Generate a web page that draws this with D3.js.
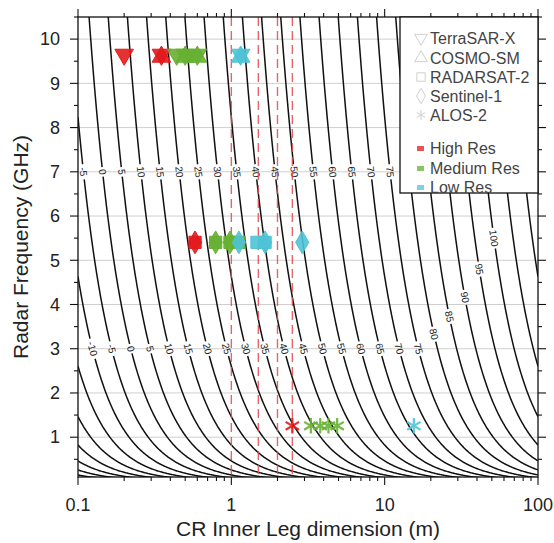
<!DOCTYPE html>
<html>
<head>
<meta charset="utf-8">
<script src="https://cdn.jsdelivr.net/npm/d3@7"></script>
<style>
  body { margin: 0; background: #fff; }
  svg { display: block; }
  text { font-family: "Liberation Sans", Arial, Helvetica, sans-serif; }
</style>
</head>
<body>
<svg id="chart" width="554" height="543"></svg>
<script>
// Trihedral corner reflector RCS contours (dBsm) over leg size and radar frequency
const rcsLevels = [-40, -35, -30, -25, -20, -15, -10, -5, 0, 5, 10, 15, 20, 25, 30, 35, 40,
                   45, 50, 55, 60, 65, 70, 75, 80, 85, 90, 95, 100, 105, 110, 115];
const upperBandLevels = [-5, 0, 5, 10, 15, 20, 25, 30, 35, 40, 45, 50, 55, 60, 65, 70, 75];
const lowerBandLevels = [-10, -5, 0, 5, 10, 15, 20, 25, 30, 35, 40, 45, 50, 55, 60, 65, 70, 75];
const diagonalLevels = [80, 85, 90, 95, 100];
const diagonalFreqs = [3.33, 3.73, 4.16, 4.8, 5.5];
const upperBandFreq = 7.0;
const lowerBandFreq = 3.0;

const xTickValues = [0.1, 1, 10, 100];
const xTickLabels = ["0.1", "1", "10", "100"];
const yTickValues = [1, 2, 3, 4, 5, 6, 7, 8, 9, 10];
const guideLegs = [1, 1.5, 2, 2.5];

// Reflector sizes per sensor and resolution class
const satellites = ["TerraSAR-X", "COSMO-SM", "RADARSAT-2", "Sentinel-1", "ALOS-2"];
const satFrequency = [9.65, 9.6, 5.405, 5.405, 1.2575];
const satShape = ["down", "up", "square", "diamond", "asterisk"];
const resClasses = ["High Res", "Medium Res", "Low Res"];
const resColors = ["#e31a1c", "#66b032", "#4fc3d6"];

const markerSat = ["TerraSAR-X", "TerraSAR-X", "TerraSAR-X", "TerraSAR-X", "TerraSAR-X", "TerraSAR-X",
                   "COSMO-SM", "COSMO-SM", "COSMO-SM", "COSMO-SM",
                   "RADARSAT-2", "RADARSAT-2", "RADARSAT-2", "RADARSAT-2", "RADARSAT-2", "RADARSAT-2",
                   "Sentinel-1", "Sentinel-1", "Sentinel-1", "Sentinel-1", "Sentinel-1", "Sentinel-1",
                   "ALOS-2", "ALOS-2", "ALOS-2", "ALOS-2", "ALOS-2", "ALOS-2"];
const markerLeg = [0.2, 0.35, 0.44, 0.5, 0.6, 1.15,
                   0.35, 0.5, 0.6, 1.15,
                   0.58, 0.79, 0.98, 1.12, 1.47, 1.66,
                   0.58, 0.79, 0.98, 1.12, 1.66, 2.9,
                   2.5, 3.3, 3.8, 4.3, 4.9, 15.5];
const markerRes = ["High Res", "High Res", "Medium Res", "Medium Res", "Medium Res", "Low Res",
                   "High Res", "Medium Res", "Medium Res", "Low Res",
                   "High Res", "Medium Res", "Medium Res", "Medium Res", "Low Res", "Low Res",
                   "High Res", "Medium Res", "Medium Res", "Low Res", "Low Res", "Low Res",
                   "High Res", "Medium Res", "Medium Res", "Medium Res", "Medium Res", "Low Res"];

// RCS of a trihedral: sigma = 4*pi*a^4 / (3*lambda^2)
const C = 299792458;
const K_DB = 10 * Math.log10(4 * Math.PI / 3) + 20 * Math.log10(1e9 / C);
function freqForLevel(level, leg) {
  return Math.pow(10, (level - K_DB - 40 * Math.log10(leg)) / 20);
}
function legForLevel(level, f) {
  return Math.pow(10, (level - K_DB - 20 * Math.log10(f)) / 40);
}

const svg = d3.select("#chart");
const W = 554, H = 543;
const m = { left: 78, right: 538, top: 17, bottom: 477 };

const x = d3.scaleLog().domain([0.1, 100]).range([m.left, m.right]);
const y = d3.scaleLinear().domain([0.1, 10.5]).range([m.bottom, m.top]);

svg.append("rect").attr("width", W).attr("height", H).attr("fill", "#fff");

const defs = svg.append("defs");
defs.append("clipPath").attr("id", "plotClip")
  .append("rect").attr("x", m.left).attr("y", m.top)
  .attr("width", m.right - m.left).attr("height", m.bottom - m.top);

// horizontal grid
svg.append("g").selectAll("line").data(yTickValues).join("line")
  .attr("x1", m.left).attr("x2", m.right)
  .attr("y1", d => y(d)).attr("y2", d => y(d))
  .attr("stroke", "#cfcfcf").attr("stroke-width", 1);

// contour label placements
const labelFont = 10;
const labels = [];
function addLabel(level, f) {
  const leg = legForLevel(level, f);
  const px = x(leg), py = y(f);
  const d = 0.01;
  const p2x = x(leg * (1 + d)), p2y = y(freqForLevel(level, leg * (1 + d)));
  const ang = Math.atan2(p2y - py, p2x - px) * 180 / Math.PI;
  labels.push({ level, px, py, ang });
}
upperBandLevels.forEach(l => addLabel(l, upperBandFreq));
lowerBandLevels.forEach(l => addLabel(l, lowerBandFreq));
diagonalLevels.forEach((l, i) => addLabel(l, diagonalFreqs[i]));

// gaps in the contour lines under labels
const mask = defs.append("mask").attr("id", "labelMask").attr("maskUnits", "userSpaceOnUse")
  .attr("x", 0).attr("y", 0).attr("width", W).attr("height", H);
mask.append("rect").attr("width", W).attr("height", H).attr("fill", "#fff");
const labW = d => String(d.level).length * labelFont * 0.56 + 4;
mask.selectAll("rect.gap").data(labels).join("rect").attr("class", "gap")
  .attr("x", d => -labW(d) / 2)
  .attr("y", -labelFont * 0.6)
  .attr("width", labW)
  .attr("height", labelFont * 1.2)
  .attr("transform", d => `translate(${d.px},${d.py}) rotate(${d.ang})`)
  .attr("fill", "#000");

// contour lines
const legSamples = d3.range(0, 601).map(i => Math.pow(10, -1 + 3 * i / 600));
const line = d3.line().x(d => x(d[0])).y(d => y(d[1]));
const contourG = svg.append("g").attr("clip-path", "url(#plotClip)")
  .append("g").attr("mask", "url(#labelMask)");
contourG.selectAll("path").data(rcsLevels).join("path")
  .attr("d", lev => {
    const pts = legSamples.map(a => [a, freqForLevel(lev, a)])
      .filter(p => p[1] > 0.02 && p[1] < 14);
    return line(pts);
  })
  .attr("fill", "none").attr("stroke", "#111").attr("stroke-width", 1.5);

// contour labels
svg.append("g").selectAll("text").data(labels).join("text")
  .attr("transform", d => `translate(${d.px},${d.py}) rotate(${d.ang})`)
  .attr("text-anchor", "middle").attr("dy", "0.35em")
  .attr("font-size", labelFont).attr("fill", "#222")
  .text(d => d.level);

// vertical guide lines at selected leg sizes
const guideG = svg.append("g").attr("clip-path", "url(#plotClip)");
guideG.selectAll("line").data(guideLegs).join("line")
  .attr("x1", d => x(d)).attr("x2", d => x(d))
  .attr("y1", m.top).attr("y2", m.bottom)
  .attr("stroke", "#e04a4e").attr("stroke-opacity", 0.85)
  .attr("stroke-width", 1.4)
  .attr("stroke-dasharray", "9,5");

// markers
function shapePath(shape, size) {
  const sym = {
    up: d3.symbolTriangle, down: d3.symbolTriangle, square: d3.symbolSquare,
    diamond: d3.symbolDiamond, circle: d3.symbolCircle, asterisk: d3.symbolAsterisk
  }[shape];
  return d3.symbol().type(sym).size(size)();
}
const markers = markerSat.map((s, i) => {
  const si = satellites.indexOf(s);
  return { sat: s, leg: markerLeg[i], f: satFrequency[si], shape: satShape[si],
           color: resColors[resClasses.indexOf(markerRes[i])] };
});
const markG = svg.append("g");
markG.selectAll("path.solid").data(markers.filter(d => d.shape !== "asterisk")).join("path")
  .attr("class", "solid")
  .attr("d", d => shapePath(d.shape, 150))
  .attr("transform", d => `translate(${x(d.leg)},${y(d.f)})` + (d.shape === "down" ? " rotate(180)" : ""))
  .attr("fill", d => d.color).attr("fill-opacity", 0.9)
  .attr("stroke", d => d.color).attr("stroke-width", 1);
markG.selectAll("path.star").data(markers.filter(d => d.shape === "asterisk")).join("path")
  .attr("class", "star")
  .attr("d", d => shapePath(d.shape, 170))
  .attr("transform", d => `translate(${x(d.leg)},${y(d.f)})`)
  .attr("fill", "none")
  .attr("stroke", d => d.color).attr("stroke-width", 2.2).attr("stroke-opacity", 0.9);

// frame and axes
svg.append("rect").attr("x", m.left).attr("y", m.top)
  .attr("width", m.right - m.left).attr("height", m.bottom - m.top)
  .attr("fill", "none").attr("stroke", "#111").attr("stroke-width", 1.3);

const minorX = [];
[0.1, 1, 10].forEach(b => { for (let k = 2; k <= 9; k++) minorX.push(b * k); });
const halfY = d3.range(0.5, 10.51, 0.5);

const axG = svg.append("g").attr("stroke", "#111").attr("stroke-width", 1.1);
axG.selectAll("line.bx").data(xTickValues).join("line").attr("class", "bx")
  .attr("x1", d => x(d)).attr("x2", d => x(d)).attr("y1", m.bottom).attr("y2", m.bottom + 8);
axG.selectAll("line.bxm").data(minorX).join("line").attr("class", "bxm")
  .attr("x1", d => x(d)).attr("x2", d => x(d)).attr("y1", m.bottom).attr("y2", m.bottom + 4);
axG.selectAll("line.tx").data(xTickValues).join("line").attr("class", "tx")
  .attr("x1", d => x(d)).attr("x2", d => x(d)).attr("y1", m.top).attr("y2", m.top - 8);
axG.selectAll("line.txm").data(minorX).join("line").attr("class", "txm")
  .attr("x1", d => x(d)).attr("x2", d => x(d)).attr("y1", m.top).attr("y2", m.top - 4);
axG.selectAll("line.ly").data(halfY).join("line").attr("class", "ly")
  .attr("y1", d => y(d)).attr("y2", d => y(d))
  .attr("x1", m.left).attr("x2", d => m.left - (Number.isInteger(d) ? 8 : 4));
axG.selectAll("line.ry").data(halfY).join("line").attr("class", "ry")
  .attr("y1", d => y(d)).attr("y2", d => y(d))
  .attr("x1", m.right).attr("x2", d => m.right + (Number.isInteger(d) ? 8 : 4));

svg.append("g").selectAll("text").data(xTickValues).join("text")
  .attr("x", d => x(d)).attr("y", 511)
  .attr("text-anchor", "middle").attr("font-size", 18).attr("fill", "#222")
  .text((d, i) => xTickLabels[i]);
svg.append("g").selectAll("text").data(yTickValues).join("text")
  .attr("x", 60).attr("y", d => y(d)).attr("dy", "0.35em")
  .attr("text-anchor", "end").attr("font-size", 18).attr("fill", "#222")
  .text(d => d);

svg.append("text").attr("x", (m.left + m.right) / 2).attr("y", 536)
  .attr("text-anchor", "middle").attr("font-size", 21).attr("fill", "#222")
  .text("CR Inner Leg dimension (m)");
svg.append("text").attr("transform", `translate(28,${(m.top + m.bottom) / 2}) rotate(-90)`)
  .attr("text-anchor", "middle").attr("font-size", 21).attr("fill", "#222")
  .text("Radar Frequency (GHz)");

// legend
const lg = svg.append("g");
lg.append("rect").attr("x", 400).attr("y", m.top).attr("width", m.right - 400).attr("height", 176)
  .attr("fill", "#fff").attr("stroke", "#111").attr("stroke-width", 1.3);
const satRows = [38, 58, 77, 96, 115];
satellites.forEach((s, i) => {
  lg.append("path").attr("d", shapePath(satShape[i], 70))
    .attr("transform", `translate(421,${satRows[i]})` + (satShape[i] === "down" ? " rotate(180)" : ""))
    .attr("fill", "none").attr("stroke", "#d0d0d0").attr("stroke-width", 1);
  lg.append("text").attr("x", 430).attr("y", satRows[i]).attr("dy", "0.35em")
    .attr("font-size", 16).attr("fill", "#444").text(s);
});
const resRows = [148, 168, 187];
resClasses.forEach((r, i) => {
  lg.append("rect").attr("x", 417).attr("y", resRows[i] - 2).attr("width", 7).attr("height", 5)
    .attr("fill", resColors[i]).attr("opacity", 0.75);
  lg.append("text").attr("x", 430).attr("y", resRows[i]).attr("dy", "0.35em")
    .attr("font-size", 16).attr("fill", "#444").text(r);
});
</script>
</body>
</html>
